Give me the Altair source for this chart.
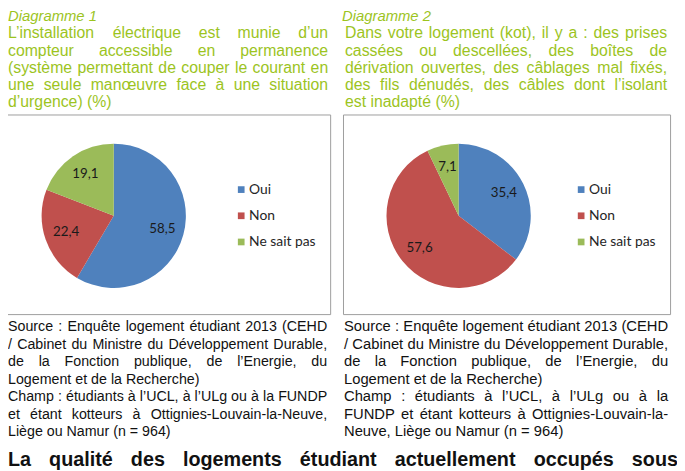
import altair as alt
import pandas as pd

# ---------------- data ----------------
categories = ["Oui", "Non", "Ne sait pas"]
colors = ["#4F81BD", "#C0504D", "#9BBB59"]
pie1_values = [58.5, 22.4, 19.1]
pie2_values = [35.4, 57.6, 7.1]

title1_head = "Diagramme 1"
title1_lines = [
    "L’installation électrique est munie d’un",
    "compteur accessible en permanence",
    "(système permettant de couper le courant en",
    "une seule manœuvre face à une situation",
    "d’urgence) (%)",
]
title1_just = [True, True, True, True, False]

title2_head = "Diagramme 2"
title2_lines = [
    "Dans votre logement (kot), il y a : des prises",
    "cassées ou descellées, des boîtes de",
    "dérivation ouvertes, des câblages mal fixés,",
    "des fils dénudés, des câbles dont l’isolant",
    "est inadapté (%)",
]
title2_just = [True, True, True, True, False]

source1_lines = [
    "Source : Enquête logement étudiant 2013 (CEHD",
    "/ Cabinet du Ministre du Développement Durable,",
    "de la Fonction publique, de l’Energie, du",
    "Logement et de la Recherche)",
    "Champ : étudiants à l’UCL, à l’ULg ou à la FUNDP",
    "et étant kotteurs à Ottignies-Louvain-la-Neuve,",
    "Liège ou Namur (n = 964)",
]
source1_just = [True, True, True, False, True, True, False]

source2_lines = [
    "Source : Enquête logement étudiant 2013 (CEHD",
    "/ Cabinet du Ministre du Développement Durable,",
    "de la Fonction publique, de l’Energie, du",
    "Logement et de la Recherche)",
    "Champ : étudiants à l’UCL, à l’ULg ou à la",
    "FUNDP et étant kotteurs à Ottignies-Louvain-la-",
    "Neuve, Liège ou Namur (n = 964)",
]
source2_just = [True, True, True, False, True, True, False]

heading_lines = ["La qualité des logements étudiant actuellement occupés sous"]
heading_just = [True]

# ---------------- text metrics (Arial / Liberation Sans, 1/1000 em) ----------------
REG = dict(zip("abcdefghijklmnopqrstuvwxyz",
               [556, 556, 500, 556, 556, 278, 556, 556, 222, 222, 500, 222, 833,
                556, 556, 556, 556, 333, 500, 278, 556, 500, 722, 500, 500, 500]))
REG.update(dict(zip("ABCDEFGHIJKLMNOPQRSTUVWXYZ",
                    [667, 667, 722, 722, 667, 611, 778, 722, 278, 500, 667, 556, 833,
                     722, 778, 667, 778, 722, 667, 611, 722, 667, 944, 667, 667, 611])))
REG.update({"é": 556, "è": 556, "ê": 556, "à": 556, "â": 556, "î": 278, "ô": 556,
            "ç": 500, "œ": 944, " ": 278, "’": 222, "'": 191, "(": 333, ")": 333,
            ",": 278, ":": 278, "%": 889, "/": 278, "-": 333, "=": 584, ".": 278})
for d in "0123456789":
    REG[d] = 556
BOLD = dict(REG)
BOLD.update(dict(zip("abcdefghijklmnopqrstuvwxyz",
                     [556, 611, 556, 611, 556, 333, 611, 611, 278, 278, 556, 278, 889,
                      611, 611, 611, 611, 389, 556, 333, 611, 556, 778, 556, 556, 500])))
BOLD.update({"L": 611, "é": 556})


def units(s, table):
    return sum(table.get(ch, 556) for ch in s)


def layout(lines, just, left, right, y0, dy, fs, table=REG):
    colw = right - left
    widest = max(units(l, table) for l, j in zip(lines, just) if j) if any(just) else 0
    if widest * fs / 1000 > colw:
        fs = colw * 1000 / widest * 0.997
    rows = []
    for i, (line, j) in enumerate(zip(lines, just)):
        y = y0 + i * dy
        if not j:
            rows.append({"x": left, "y": y, "t": line, "fs": fs})
            continue
        words = line.split(" ")
        ws = [units(w, table) * fs / 1000 for w in words]
        gap = (colw - sum(ws)) / (len(words) - 1)
        x = left
        for w, wd in zip(words, ws):
            rows.append({"x": x, "y": y, "t": w, "fs": fs})
            x += wd + gap
    return rows


W, H = 677, 463
OFF = 8  # page margin: chart coordinate = page coordinate - 8

italic_rows = [
    {"x": 0, "y": 18.5 - OFF, "t": title1_head, "fs": 15},
    {"x": 346 - OFF, "y": 18.5 - OFF, "t": title2_head, "fs": 15},
]
green_rows = (layout(title1_lines, title1_just, 0, 332 - OFF, 36 - OFF, 17.4, 16)
              + layout(title2_lines, title2_just, 349 - OFF, 675 - OFF, 36 - OFF, 17.4, 16))
black_rows = (layout(source1_lines, source1_just, 0, 331 - OFF, 332.5 - OFF, 17.67, 15)
              + layout(source2_lines, source2_just, 348 - OFF, 676 - OFF, 332.5 - OFF, 17.67, 15))
bold_rows = layout(heading_lines, heading_just, 0, 686 - OFF, 469 - OFF, 0, 20, BOLD)

GREEN = "#9CC41E"


def text_layer(rows, color, **kw):
    return alt.Chart(pd.DataFrame(rows)).mark_text(
        align="left", baseline="alphabetic", font="Liberation Sans", color=color, **kw
    ).encode(
        x=alt.X("x:Q", scale=None),
        y=alt.Y("y:Q", scale=None),
        text="t:N",
        size=alt.Size("fs:Q", scale=None, legend=None),
    )


boxes = pd.DataFrame({
    "x": [-10, 347 - OFF + 0.5],
    "x2": [334 - OFF + 0.5, 678 - OFF + 0.5],
    "y": [113 - OFF + 0.5, 113 - OFF + 0.5],
    "y2": [315 - OFF + 0.5, 315 - OFF + 0.5],
})
box_layer = alt.Chart(boxes).mark_rect(fill="white", stroke="#9C9C9C", strokeWidth=1).encode(
    x=alt.X("x:Q", scale=None), x2="x2:Q", y=alt.Y("y:Q", scale=None), y2="y2:Q"
)

color_scale = alt.Scale(domain=categories, range=colors)
R = 73


def pie_layers(values, cx, cy):
    df = pd.DataFrame({
        "cat": categories,
        "idx": list(range(len(categories))),
        "v": values,
        "lab": [f"{v:.1f}".replace(".", ",") for v in values],
    })
    arc = alt.Chart(df).mark_arc(outerRadius=R).encode(
        theta=alt.Theta("v:Q", stack=True),
        color=alt.Color("cat:N", scale=color_scale, legend=None),
        order=alt.Order("idx:Q"),
        x=alt.value(cx), y=alt.value(cy),
    )
    lab = alt.Chart(df).mark_text(radius=51, font="Lato", fontSize=13.5, color="#1A1A1A").encode(
        theta=alt.Theta("v:Q", stack=True),
        order=alt.Order("idx:Q"),
        text="lab:N",
        x=alt.value(cx), y=alt.value(cy),
    )
    return arc, lab


def legend_layers(sx, tx, y0):
    df = pd.DataFrame({
        "cat": categories,
        "sx": [sx] * 3,
        "tx": [tx] * 3,
        "y": [y0 + i * 26.5 for i in range(3)],
    })
    sq = alt.Chart(df).mark_square(size=46, opacity=1).encode(
        x=alt.X("sx:Q", scale=None), y=alt.Y("y:Q", scale=None),
        color=alt.Color("cat:N", scale=color_scale, legend=None),
    )
    tx_ = alt.Chart(df).mark_text(align="left", baseline="middle", font="Lato",
                                  fontSize=14, color="#262626").encode(
        x=alt.X("tx:Q", scale=None), y=alt.Y("y:Q", scale=None), text="cat:N"
    )
    return sq, tx_


arc1, lab1 = pie_layers(pie1_values, 115 - OFF, 215.5 - OFF)
arc2, lab2 = pie_layers(pie2_values, 464 - OFF, 215.5 - OFF)
sq1, lt1 = legend_layers(244 - OFF, 252 - OFF, 189 - OFF)
sq2, lt2 = legend_layers(588 - OFF, 596 - OFF, 189 - OFF)

chart = alt.layer(
    box_layer,
    arc1, lab1, arc2, lab2,
    sq1, lt1, sq2, lt2,
    text_layer(italic_rows, GREEN, fontStyle="italic"),
    text_layer(green_rows, GREEN),
    text_layer(black_rows, "#111111"),
    text_layer(bold_rows, "#111111", fontWeight="bold"),
).resolve_scale(theta="independent").properties(
    width=W, height=H, padding=0, autosize=alt.AutoSizeParams(type="none"),
    background="white",
).configure_view(stroke=None)

chart.save("out.html", embed_options={"renderer": "svg", "actions": False})
